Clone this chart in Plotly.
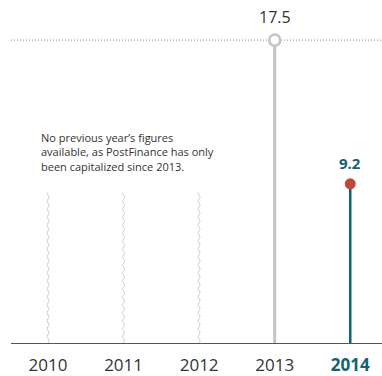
import numpy as np
import plotly.graph_objects as go

# Equity figures (CHF bn) by year; earlier years have no data
years = ["2010", "2011", "2012", "2013", "2014"]
values = [None, None, None, 17.5, 9.2]
value_labels = ["", "", "", "17.5", "9.2"]

TEAL = "#0e6470"
GREY = "#c4c4c4"
RED = "#c0463a"
TEXT = "#333333"
FONT = "Open Sans"

NO_DATA_HEIGHT = 8.7  # height of the wavy "no data" placeholder lines

fig = go.Figure()

# Wavy placeholder lines for years without figures
t = np.linspace(0, NO_DATA_HEIGHT, 400)
for i, v in enumerate(values):
    if v is None:
        fig.add_trace(go.Scatter(
            x=i + 0.015 * np.sin(t * 2 * np.pi / 0.46), y=t,
            mode="lines", line=dict(color="#cfcfcf", width=1),
            hoverinfo="skip", showlegend=False))

# Dotted reference line at the previous year's level
prev = values[3]
fig.add_shape(type="line", xref="paper", x0=0, x1=1, y0=prev, y1=prev,
              line=dict(color="#8a8a8a", width=1, dash="1px,2px"), layer="below")

# Stems
fig.add_trace(go.Scatter(x=[3, 3], y=[0, values[3]], mode="lines",
                         line=dict(color=GREY, width=3),
                         hoverinfo="skip", showlegend=False))
fig.add_trace(go.Scatter(x=[4, 4], y=[0, values[4]], mode="lines",
                         line=dict(color=TEAL, width=2.5),
                         hoverinfo="skip", showlegend=False))

# Stem heads
fig.add_trace(go.Scatter(x=[3], y=[values[3]], mode="markers",
                         marker=dict(size=11, color="white",
                                     line=dict(color=GREY, width=2.5)),
                         showlegend=False))
fig.add_trace(go.Scatter(x=[4], y=[values[4]], mode="markers",
                         marker=dict(size=11, color=RED,
                                     line=dict(width=0)),
                         showlegend=False))

# Value labels
fig.add_annotation(x=3, y=values[3], text=value_labels[3], showarrow=False,
                   yshift=23, font=dict(family=FONT, size=16, color=TEXT))
fig.add_annotation(x=4, y=values[4], text="<b>" + value_labels[4] + "</b>",
                   showarrow=False, yshift=21,
                   font=dict(family=FONT, size=15, color=TEAL))

# Explanatory note
fig.add_annotation(x=-0.12, y=11.03, xanchor="left", yanchor="middle", align="left",
                   text="No previous year’s figures<br>available, as PostFinance has only"
                        "<br>been capitalized since 2013.",
                   showarrow=False,
                   font=dict(family=FONT, size=11, color=TEXT))

ticktext = years[:-1] + [f"<b><span style='color:{TEAL}'>{years[-1]}</span></b>"]

fig.update_layout(
    width=382, height=376,
    margin=dict(l=11, r=0, t=10, b=33),
    paper_bgcolor="white", plot_bgcolor="white",
    xaxis=dict(range=[-0.49, 4.42], tickvals=list(range(len(years))),
               ticktext=ticktext, showgrid=False, zeroline=False,
               showline=True, linecolor="#555555", linewidth=1.2,
               ticks="", ticklabelstandoff=6,
               tickfont=dict(family=FONT, size=17, color=TEXT)),
    yaxis=dict(range=[0, 19.24], visible=False, fixedrange=True),
    showlegend=False,
)

fig.write_html("out.html")
